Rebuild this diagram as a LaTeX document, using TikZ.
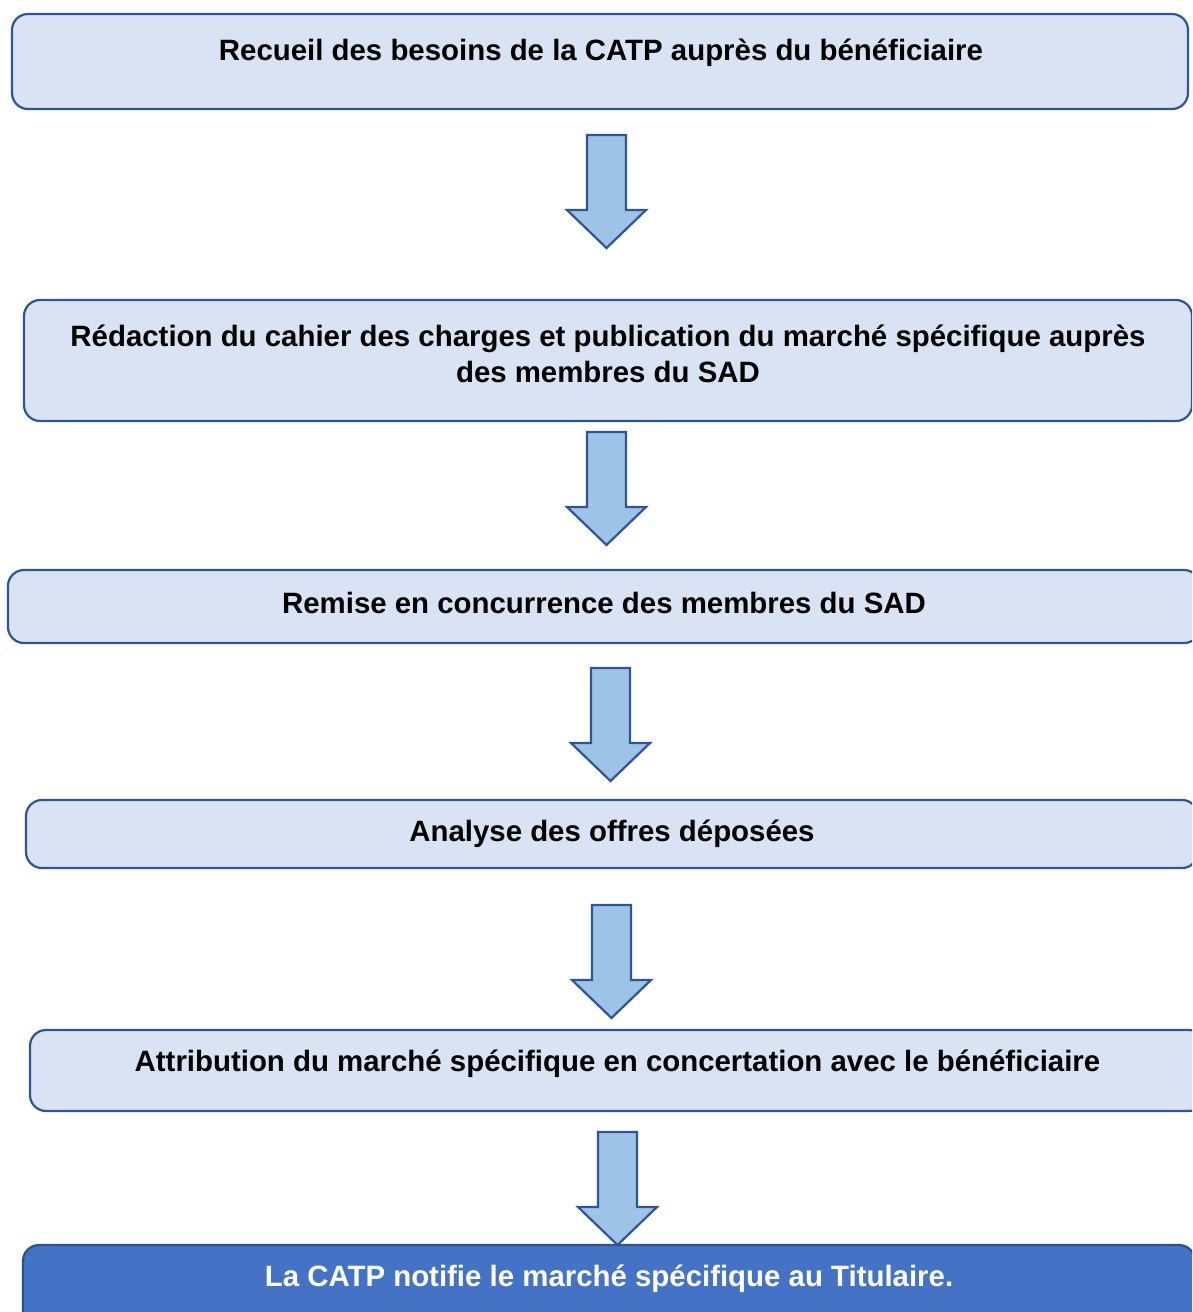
\documentclass[tikz,border=0pt]{standalone}
\usepackage{fontspec}
\setmainfont{Liberation Sans}
\usepackage{tikz}

\definecolor{boxfill}{HTML}{DAE3F3}
\definecolor{boxline}{HTML}{2F5597}
\definecolor{arrfill}{HTML}{9DC3E6}
\definecolor{lastfill}{HTML}{4472C4}
\definecolor{lastline}{HTML}{2F528F}

\tikzset{
    etape/.style={draw=boxline, fill=boxfill, line width=2.2pt, rounded corners=16pt},
    fin/.style={draw=lastline, fill=lastfill, line width=2.2pt, rounded corners=16pt},
    texte/.style={font=\bfseries\fontsize{29.4}{36}\selectfont, align=center, inner sep=0pt},
    fleche/.style={draw=boxline, fill=arrfill, line width=2.2pt, line join=miter}
}

% fleche vers le bas : centre x, haut du fut, pointe
\newcommand{\flecheBas}[3]{%
    \draw[fleche] (#1-19.5,#2) -- (#1+19.5,#2) -- (#1+19.5,#3-38) -- (#1+39.5,#3-38)
        -- (#1,#3) -- (#1-39.5,#3-38) -- (#1-19.5,#3-38) -- cycle;
}

\begin{document}
\begin{tikzpicture}[x=1pt, y=-1pt]
    \useasboundingbox (0,0) rectangle (1192,1312);
    \clip (0,0) rectangle (1192,1312);

    \path[etape] (12,14) rectangle (1188,109);
    \node[texte] (l1) at (601,53) {Recueil des besoins de la CATP auprès du bénéficiaire};

    \flecheBas{606.5}{135}{248}

    \path[etape] (24,300) rectangle (1192,421);
    \node[texte] (l2) at (608,354) {Rédaction du cahier des charges et publication du marché spécifique auprès\\des membres du SAD};

    \flecheBas{606.5}{432}{545}

    \path[etape] (8,570) rectangle (1200,643);
    \node[texte] (l3) at (604,603) {Remise en concurrence des membres du SAD};

    \flecheBas{610.5}{668}{781}

    \path[etape] (26,800) rectangle (1198,868);
    \node[texte] (l4) at (612,834) {Analyse des offres déposées};

    \flecheBas{611.5}{905}{1018}

    \path[etape] (30,1030) rectangle (1205,1111);
    \node[texte] (l5) at (617.5,1064) {Attribution du marché spécifique en concertation avec le bénéficiaire};

    \flecheBas{617.5}{1132}{1245}

    \path[fin] (23,1245) rectangle (1195,1340);
    \node[texte, text=white] (l6) at (609,1279) {La CATP notifie le marché spécifique au Titulaire.};
\end{tikzpicture}
\end{document}
